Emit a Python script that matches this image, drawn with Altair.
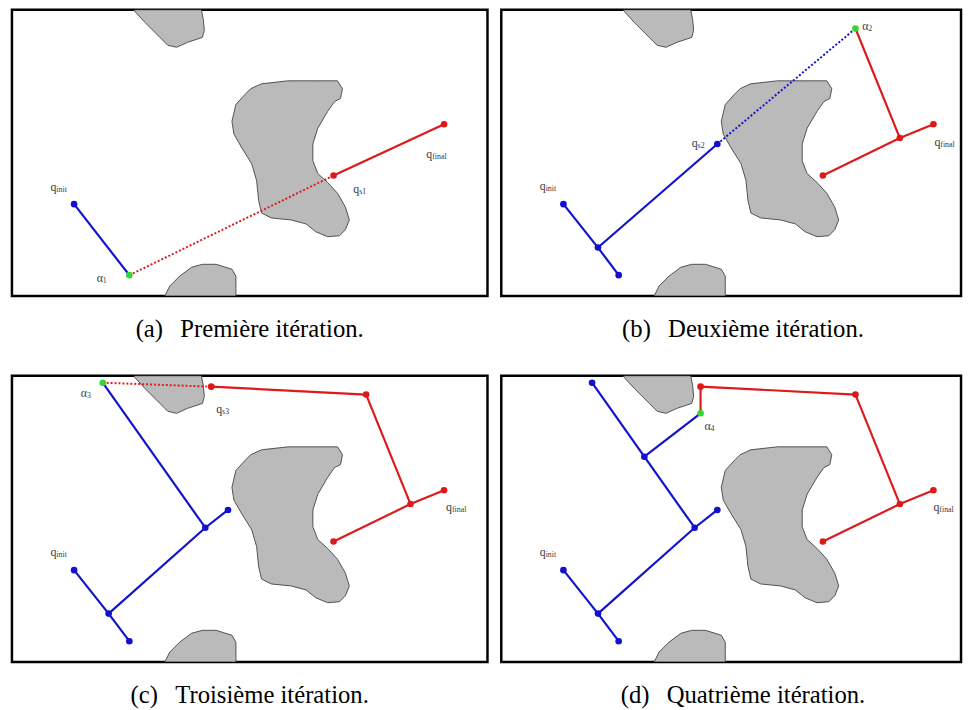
import altair as alt
import pandas as pd

# ---------------- data (configuration space coordinates, y downwards) ----------------
# obstacles (outline points)
OBS_TOP_X = [124, 124, 135, 150, 158, 167, 178, 193, 195, 194, 192]
OBS_TOP_Y = [0, 1, 13, 28, 36, 38, 33, 28, 21, 10, 0]
OBS_BIG_X = [242, 253, 280, 307, 330, 335, 333, 327, 320, 310, 305, 305, 310, 320, 330, 338, 342,
             338, 332, 320, 308, 298, 283, 263, 253, 250, 248, 243, 233, 225, 223, 227, 237]
OBS_BIG_Y = [80, 75, 72, 72, 72, 80, 90, 93, 103, 120, 136, 153, 166, 175, 186, 200, 213,
             223, 229, 230, 225, 217, 213, 211, 206, 193, 173, 156, 140, 126, 113, 96, 85]
OBS_BOT_X = [155, 160, 170, 182, 193, 207, 223, 227, 227]
OBS_BOT_Y = [290, 280, 270, 261, 258, 258, 263, 270, 290]

# tree nodes
NODE_NAMES = ["qinit", "J1", "a1", "qs2", "J2", "a3", "J3", "a4", "qfinal", "qs1", "Jr", "a2", "qs3"]
NODE_X = [63, 98, 119, 219, 196, 92, 145, 202, 438, 326, 404, 359, 202]
NODE_Y = [197, 241, 269, 136, 154, 7, 82, 38, 116, 168, 130, 19, 11]

# edges per iteration: (from, to, tree colour, style)
EDGES_A = [("qinit", "a1", "blue", "solid"), ("qs1", "qfinal", "red", "solid"),
           ("a1", "qs1", "red", "dotted")]
EDGES_B = [("qinit", "J1", "blue", "solid"), ("J1", "a1", "blue", "solid"), ("J1", "qs2", "blue", "solid"),
           ("qs1", "Jr", "red", "solid"), ("Jr", "qfinal", "red", "solid"), ("Jr", "a2", "red", "solid"),
           ("qs2", "a2", "blue", "dotted")]
EDGES_C = [("qinit", "J1", "blue", "solid"), ("J1", "a1", "blue", "solid"), ("J1", "J2", "blue", "solid"),
           ("J2", "qs2", "blue", "solid"), ("J2", "a3", "blue", "solid"),
           ("qs1", "Jr", "red", "solid"), ("Jr", "qfinal", "red", "solid"), ("Jr", "a2", "red", "solid"),
           ("a2", "qs3", "red", "solid"), ("a3", "qs3", "red", "dotted")]
EDGES_D = [("qinit", "J1", "blue", "solid"), ("J1", "a1", "blue", "solid"), ("J1", "J2", "blue", "solid"),
           ("J2", "qs2", "blue", "solid"), ("J2", "J3", "blue", "solid"), ("J3", "a3", "blue", "solid"),
           ("J3", "a4", "blue", "solid"),
           ("qs1", "Jr", "red", "solid"), ("Jr", "qfinal", "red", "solid"), ("Jr", "a2", "red", "solid"),
           ("a2", "qs3", "red", "solid"), ("qs3", "a4", "red", "solid")]

# nodes shown per iteration: (node, colour)
NODES_A = [("qinit", "blue"), ("a1", "green"), ("qs1", "red"), ("qfinal", "red")]
NODES_B = [("qinit", "blue"), ("J1", "blue"), ("a1", "blue"), ("qs2", "blue"),
           ("qs1", "red"), ("Jr", "red"), ("qfinal", "red"), ("a2", "green")]
NODES_C = [("qinit", "blue"), ("J1", "blue"), ("a1", "blue"), ("J2", "blue"), ("qs2", "blue"),
           ("qs1", "red"), ("Jr", "red"), ("qfinal", "red"), ("a2", "red"), ("qs3", "red"), ("a3", "green")]
NODES_D = [("qinit", "blue"), ("J1", "blue"), ("a1", "blue"), ("J2", "blue"), ("qs2", "blue"),
           ("J3", "blue"), ("a3", "blue"),
           ("qs1", "red"), ("Jr", "red"), ("qfinal", "red"), ("a2", "red"), ("qs3", "red"), ("a4", "green")]

# labels per iteration: (symbol, subscript, x, y)
LABELS_A = [("q", "init", 42, 180), ("α", "1", 89, 272), ("q", "s1", 349, 182), ("q", "final", 423, 146)]
LABELS_B = [("q", "init", 42, 179), ("q", "s2", 196, 135), ("α", "2", 369, 16), ("q", "final", 442, 134)]
LABELS_C = [("q", "init", 42, 179), ("α", "3", 73, 17), ("q", "s3", 210, 34), ("q", "final", 443, 133)]
LABELS_D = [("q", "init", 42, 179), ("α", "4", 209, 51), ("q", "final", 441, 133)]

CAPTIONS = ["(a)\u2002\u2009Première itération.", "(b)\u2002\u2009Deuxième itération.",
            "(c)\u2002\u2009Troisième itération.", "(d)\u2002\u2009Quatrième itération."]

COLOR_DOMAIN = ["blue", "red", "green"]
COLOR_RANGE = ["#1212cc", "#dd1a1a", "#33d633"]

# ---------------- build tables ----------------
pos = {n: (x, y) for n, x, y in zip(NODE_NAMES, NODE_X, NODE_Y)}

obs_rows = []
for name, xs, ys in [("top", OBS_TOP_X, OBS_TOP_Y), ("big", OBS_BIG_X, OBS_BIG_Y), ("bot", OBS_BOT_X, OBS_BOT_Y)]:
    for i, (x, y) in enumerate(zip(xs, ys)):
        obs_rows.append({"blob": name, "order": i, "x": x, "y": y})
obs_df = pd.DataFrame(obs_rows)


def edge_df(edges):
    rows = []
    for a, b, c, s in edges:
        rows.append({"x": pos[a][0], "y": pos[a][1], "x2": pos[b][0], "y2": pos[b][1], "tree": c, "style": s})
    return pd.DataFrame(rows)


def node_df(nodes):
    return pd.DataFrame([{"x": pos[n][0], "y": pos[n][1], "tree": c} for n, c in nodes])


def label_df(labels):
    return pd.DataFrame([{"sym": s, "sub": t, "x": x, "y": y} for s, t, x, y in labels])


def panel(edges, nodes, labels, caption, width, dx=0):
    xs = alt.Scale(domain=[0, width], nice=False, zero=False)
    ys = alt.Scale(domain=[0, 290], nice=False, zero=False, reverse=True)
    X = alt.X("x:Q", scale=xs, axis=None)
    Y = alt.Y("y:Q", scale=ys, axis=None)
    col = alt.Color("tree:N", scale=alt.Scale(domain=COLOR_DOMAIN, range=COLOR_RANGE), legend=None)

    obstacles = alt.Chart(obs_df).mark_line(
        fill="#bababa", stroke="#505050", strokeWidth=1, interpolate="linear-closed", clip=True
    ).encode(x=X, y=Y, order="order:Q", detail="blob:N")

    ed = edge_df(edges)
    solid = alt.Chart(ed[ed["style"] == "solid"]).mark_rule(strokeWidth=2.2).encode(
        x=X, y=Y, x2="x2:Q", y2="y2:Q", color=col)
    dotted = alt.Chart(ed[ed["style"] == "dotted"]).mark_rule(strokeWidth=2, strokeDash=[2, 2]).encode(
        x=X, y=Y, x2="x2:Q", y2="y2:Q", color=col)
    pts = alt.Chart(node_df(nodes)).mark_circle(size=45, opacity=1).encode(x=X, y=Y, color=col)
    ld = label_df(labels)
    sym = alt.Chart(ld).mark_text(font="Liberation Serif", fontSize=12, color="#3a3a3a",
                                  align="center", baseline="middle").encode(x=X, y=Y, text="sym:N")
    sub = alt.Chart(ld).mark_text(font="Liberation Serif", fontSize=8, color="#3a3a3a",
                                  align="left", baseline="middle", dx=3, dy=3).encode(x=X, y=Y, text="sub:N")
    return alt.layer(obstacles, solid, dotted, pts, sym, sub).properties(
        width=width, height=290,
        title=alt.TitleParams(caption, orient="bottom", font="Liberation Serif", fontSize=25,
                              fontWeight="normal", color="black", offset=22, anchor="middle", dx=dx),
    )


pa = panel(EDGES_A, NODES_A, LABELS_A, CAPTIONS[0], 482)
pb = panel(EDGES_B, NODES_B, LABELS_B, CAPTIONS[1], 466, dx=12)
pc = panel(EDGES_C, NODES_C, LABELS_C, CAPTIONS[2], 482)
pd_ = panel(EDGES_D, NODES_D, LABELS_D, CAPTIONS[3], 466, dx=12)

chart = alt.vconcat(
    alt.hconcat(pa, pb, spacing=10),
    alt.hconcat(pc, pd_, spacing=10),
    spacing=30,
).properties(
    padding={"left": 2, "top": -5, "right": 0, "bottom": 0}
).configure_view(
    stroke="black", strokeWidth=2.5
)

chart.save("out.html", embed_options={"renderer": "svg", "actions": False})
